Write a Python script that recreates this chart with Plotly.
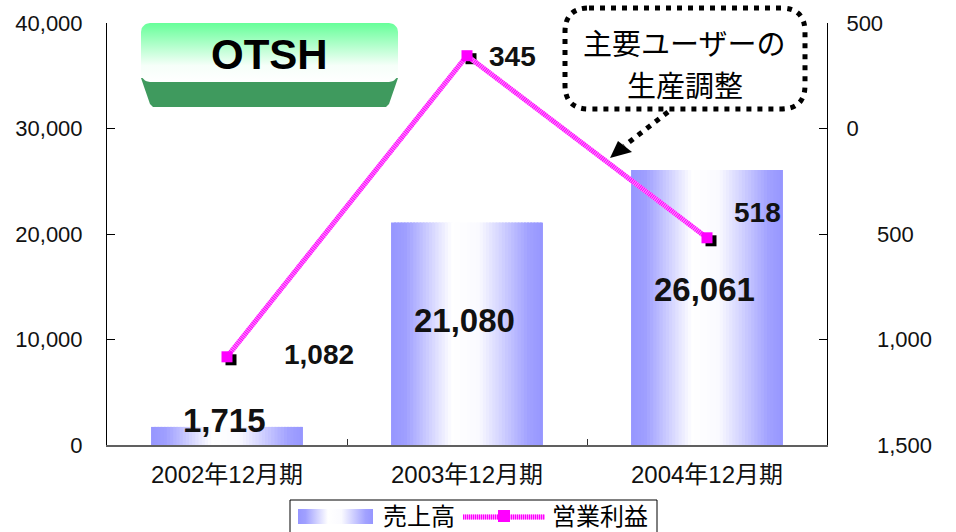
import math
import plotly.graph_objects as go

# ---------------- data ----------------
categories = ["2002年12月期", "2003年12月期", "2004年12月期"]
sales = [1715, 21080, 26061]                 # 売上高
op_profit = [-1082, 345, -518]               # 営業利益
sales_labels = ["1,715", "21,080", "26,061"]
profit_labels = ["1,082", "345", "518"]
left_tickvals = [0, 10000, 20000, 30000, 40000]
left_ticktext = ["0", "10,000", "20,000", "30,000", "40,000"]
right_tickvals = [-1500, -1000, -500, 0, 500]
right_ticktext = ["1,500", "1,000", "500", "0", "500"]

# ---------------- layout constants ----------------
W, H = 956, 532
PL, PR, PT, PB = 107, 827, 23, 445
FONT = "Liberation Sans, Arial, Noto Sans CJK JP, sans-serif"
CJK = "Noto Sans CJK JP, Liberation Sans, sans-serif"
BAR_W = 0.633
N_STRIPS = 48
Y3_RANGE = [-1500, 500]
Y1_RANGE = [0, 40000]

grad_stops = [(0.0, (150, 150, 255)), (0.10, (160, 160, 255)), (0.40, (255, 255, 255)),
              (0.58, (250, 250, 255)), (0.90, (162, 162, 255)), (1.0, (150, 150, 255))]


def grad(t):
    for (t0, c0), (t1, c1) in zip(grad_stops[:-1], grad_stops[1:]):
        if t0 <= t <= t1:
            f = (t - t0) / (t1 - t0) if t1 > t0 else 0
            c = [round(a + (b - a) * f) for a, b in zip(c0, c1)]
            return "rgb(%d,%d,%d)" % tuple(c)
    return "rgb(%d,%d,%d)" % grad_stops[-1][1]


grad_scale = [[t, "rgb(%d,%d,%d)" % c] for t, c in grad_stops]

fig = go.Figure()

# ---------------- bars (gradient by vertical strips) ----------------
step = BAR_W / N_STRIPS
for i in range(N_STRIPS):
    off = -BAR_W / 2 + i * step
    wid = min(step * 1.6, BAR_W / 2 - off)
    fig.add_trace(go.Bar(
        x=categories, y=sales, width=wid, offset=off,
        marker=dict(color=grad((i + 0.5) / N_STRIPS), line=dict(width=0)),
        showlegend=False, hoverinfo="skip", xaxis="x", yaxis="y"))

# ---------------- marker shadow (shifted overlay axes) ----------------
fig.add_trace(go.Scatter(
    x=categories, y=op_profit, mode="markers",
    marker=dict(symbol="square", size=11, color="black"),
    showlegend=False, hoverinfo="skip", xaxis="x2", yaxis="y2"))

# ---------------- operating profit line ----------------
fig.add_trace(go.Scatter(
    x=categories, y=op_profit, mode="lines",
    line=dict(color="#ff8cff", width=5),
    showlegend=False, hoverinfo="skip", xaxis="x3", yaxis="y3"))
fig.add_trace(go.Scatter(
    x=categories, y=op_profit, mode="lines",
    line=dict(color="#ff00ff", width=5, dash="1px,1px"),
    showlegend=False, hoverinfo="skip", xaxis="x3", yaxis="y3"))
fig.add_trace(go.Scatter(
    x=categories, y=op_profit, mode="markers",
    marker=dict(symbol="square", size=11, color="#ff00ff"),
    showlegend=False, hoverinfo="skip", xaxis="x3", yaxis="y3"))

# ---------------- decorations on a pixel overlay axis ----------------
def rr_points(x0, y0, x1, y1, r, n=8):
    pts = []
    for cx, cy, a0 in [(x1 - r, y0 + r, -90), (x1 - r, y1 - r, 0),
                       (x0 + r, y1 - r, 90), (x0 + r, y0 + r, 180)]:
        for k in range(n + 1):
            a = math.radians(a0 + 90 * k / n)
            pts.append((cx + r * math.cos(a), cy + r * math.sin(a)))
    pts.append(pts[0])
    return [p[0] for p in pts], [p[1] for p in pts]


# OTSH badge: bottom (dark) face then gradient top face
fig.add_trace(go.Scatter(
    x=[141, 398, 389, 386, 153, 150, 141], y=[78, 78, 104, 107, 107, 104, 78],
    mode="lines", fill="toself", fillcolor="#3f9a5e", line=dict(width=0),
    showlegend=False, hoverinfo="skip", xaxis="x4", yaxis="y4"))
bx, by = rr_points(141, 23, 398, 82, 9)
fig.add_trace(go.Scatter(
    x=bx, y=by, mode="lines", fill="toself", line=dict(width=0),
    fillgradient=dict(type="vertical", start=82, stop=23,
                      colorscale=[[0, "#ffffff"], [0.28, "#f6fff9"], [1, "#66ff99"]]),
    showlegend=False, hoverinfo="skip", xaxis="x4", yaxis="y4"))

# legend swatches
fig.add_trace(go.Scatter(
    x=[298, 373, 373, 298, 298], y=[509, 509, 524, 524, 509],
    mode="lines", fill="toself", line=dict(width=0),
    fillgradient=dict(type="horizontal", start=298, stop=373, colorscale=grad_scale),
    showlegend=False, hoverinfo="skip", xaxis="x4", yaxis="y4"))
fig.add_trace(go.Scatter(
    x=[463, 545], y=[517, 517], mode="lines", line=dict(color="#ff8cff", width=5),
    showlegend=False, hoverinfo="skip", xaxis="x4", yaxis="y4"))
fig.add_trace(go.Scatter(
    x=[463, 545], y=[517, 517], mode="lines",
    line=dict(color="#ff00ff", width=5, dash="1px,1px"),
    showlegend=False, hoverinfo="skip", xaxis="x4", yaxis="y4"))
fig.add_trace(go.Scatter(
    x=[504], y=[516], mode="markers", marker=dict(symbol="square", size=12, color="#ff00ff"),
    showlegend=False, hoverinfo="skip", xaxis="x4", yaxis="y4"))


def rr_path(x0, y0, x1, y1, r):
    return (f"M{x0+r},{y0} L{x1-r},{y0} Q{x1},{y0} {x1},{y0+r} L{x1},{y1-r} "
            f"Q{x1},{y1} {x1-r},{y1} L{x0+r},{y1} Q{x0},{y1} {x0},{y1-r} "
            f"L{x0},{y0+r} Q{x0},{y0} {x0+r},{y0} Z")


shapes = [
    # callout box
    dict(type="path", xref="x4", yref="y4", path=rr_path(565, 8, 805, 109, 24),
         line=dict(color="black", width=5, dash="5px,6px"), fillcolor="rgba(0,0,0,0)"),
    # dotted arrow
    dict(type="line", xref="x4", yref="y4", x0=668, y0=112, x1=624, y1=146,
         line=dict(color="black", width=5, dash="5px,6px")),
    dict(type="path", xref="x4", yref="y4", path="M610,158 L618,141 L632,152 Z",
         fillcolor="black", line=dict(width=0)),
    # legend frame
    dict(type="rect", xref="x4", yref="y4", x0=290, y0=500, x1=657, y1=545,
         line=dict(color="black", width=1), fillcolor="rgba(0,0,0,0)", layer="below"),
]

annotations = []
# bar value labels
bar_anchor_frac = [1.0, 0.5, 0.5]
bar_yshift = [6, 13, 18]
for c, v, t, f, s in zip(categories, sales, sales_labels, bar_anchor_frac, bar_yshift):
    annotations.append(dict(x=c, y=v * f, xref="x", yref="y", text=f"<b>{t}</b>",
                            showarrow=False, yshift=s, xshift=-3,
                            font=dict(family=FONT, size=33, color="#111111")))
# profit labels
profit_xshift = [92, 45, 50]
profit_yshift = [2, -1, 25]
for c, v, t, dx, dy in zip(categories, op_profit, profit_labels, profit_xshift, profit_yshift):
    annotations.append(dict(x=c, y=v, xref="x3", yref="y3", text=f"<b>{t}</b>",
                            showarrow=False, xshift=dx, yshift=dy,
                            font=dict(family=FONT, size=28, color="#111111")))
# badge text
annotations.append(dict(x=269, y=54, xref="x4", yref="y4", text="<b>OTSH</b>", showarrow=False,
                        font=dict(family=FONT, size=42, color="black")))
# callout text (two lines)
annotations.append(dict(x=684, y=42, xref="x4", yref="y4", text="主要ユーザーの",
                        showarrow=False, borderpad=0,
                        font=dict(family=CJK, size=29, color="black")))
annotations.append(dict(x=685, y=84, xref="x4", yref="y4", text="生産調整",
                        showarrow=False, borderpad=0,
                        font=dict(family=CJK, size=29, color="black")))
# legend texts
annotations.append(dict(x=419, y=514, xref="x4", yref="y4", text="売上高", showarrow=False,
                        borderpad=0, font=dict(family=CJK, size=24, color="black")))
annotations.append(dict(x=600, y=514, xref="x4", yref="y4", text="営業利益", showarrow=False,
                        borderpad=0, font=dict(family=CJK, size=24, color="black")))

dx_shadow = 4 / (PR - PL) * 3
dy_shadow = 3 / (PB - PT) * (Y3_RANGE[1] - Y3_RANGE[0])

fig.update_layout(
    width=W, height=H,
    margin=dict(l=0, r=0, t=0, b=0, pad=0, autoexpand=False),
    paper_bgcolor="white", plot_bgcolor="rgba(0,0,0,0)",
    barmode="overlay", showlegend=False, hovermode=False,
    font=dict(family=FONT, color="#111111"),
    xaxis=dict(domain=[PL / W, PR / W], anchor="y", type="category", automargin=False,
               range=[-0.5, 2.5], showline=True, linecolor="#606060", linewidth=2,
               ticks="inside", tickson="boundaries", ticklen=6, tickcolor="#333333",
               tickfont=dict(family=FONT, size=24, color="#111111"),
               ticklabelstandoff=7, showgrid=False, zeroline=False, fixedrange=True),
    yaxis=dict(domain=[1 - PB / H, 1 - PT / H], anchor="x", range=Y1_RANGE, automargin=False,
               tickvals=left_tickvals, ticktext=left_ticktext,
               showline=True, linecolor="black", linewidth=1,
               ticks="inside", ticklen=8, tickcolor="black",
               tickfont=dict(family=FONT, size=22, color="#111111"),
               ticklabelstandoff=19, showgrid=False, zeroline=False, fixedrange=True),
    xaxis2=dict(overlaying="x", type="category", visible=False, fixedrange=True,
                range=[-0.5 - dx_shadow, 2.5 - dx_shadow], automargin=False),
    yaxis2=dict(overlaying="y", visible=False, fixedrange=True, automargin=False,
                range=[Y3_RANGE[0] + dy_shadow, Y3_RANGE[1] + dy_shadow]),
    xaxis3=dict(overlaying="x", type="category", visible=False, fixedrange=True,
                range=[-0.5, 2.5], automargin=False),
    yaxis3=dict(overlaying="y", side="right", anchor="x", range=Y3_RANGE, automargin=False,
                tickvals=right_tickvals,
                ticktext=[("\u00a0" * 5 + t) if v < 0 else t
                          for v, t in zip(right_tickvals, right_ticktext)],
                showline=True, linecolor="black", linewidth=1,
                ticks="inside", ticklen=8, tickcolor="black",
                tickfont=dict(family=FONT, size=22, color="#111111"),
                ticklabelstandoff=14, showgrid=False, zeroline=False, fixedrange=True),
    xaxis4=dict(domain=[0, 1], anchor="y4", range=[0, W], visible=False, fixedrange=True,
                automargin=False),
    yaxis4=dict(domain=[0, 1], anchor="x4", range=[H, 0], visible=False, fixedrange=True,
                automargin=False),
    shapes=shapes, annotations=annotations,
)

fig.write_html("out.html", config={"displayModeBar": False, "staticPlot": True},
               post_script="document.body.style.margin='0';document.body.style.overflow='hidden';")
